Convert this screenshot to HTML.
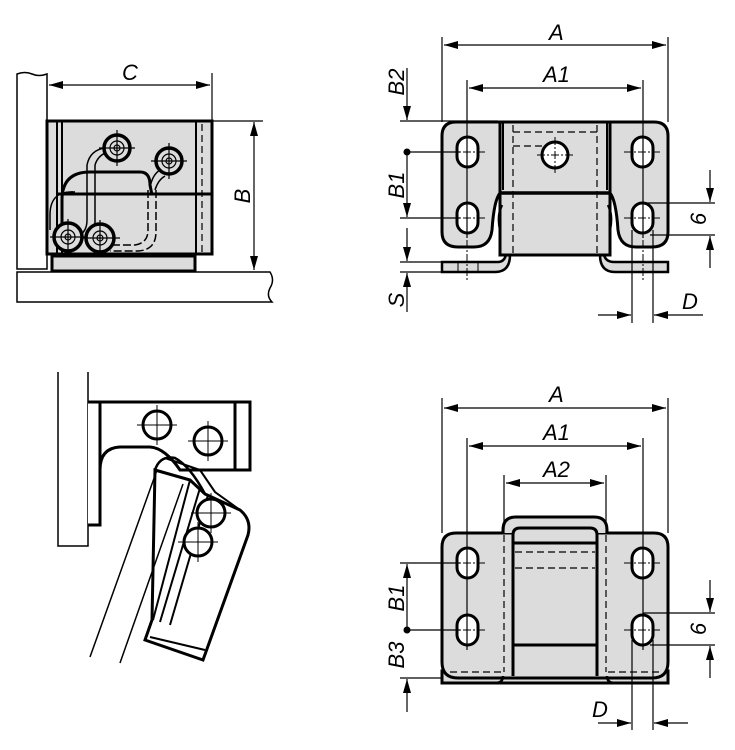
<!DOCTYPE html>
<html><head><meta charset="utf-8"><style>
html,body{margin:0;padding:0;background:#fff}
svg{display:block}
text{font-family:"Liberation Sans",sans-serif;font-style:italic;font-size:22px;fill:#000}
</style></head><body>
<svg width="735" height="750" viewBox="0 0 735 750" xmlns="http://www.w3.org/2000/svg">
<defs>
<marker id="a" viewBox="0 0 14 8" refX="14" refY="4" markerWidth="14" markerHeight="8" markerUnits="userSpaceOnUse" orient="auto-start-reverse"><path d="M0,0 L14,4 L0,8 z" fill="#000"/></marker>
</defs>
<g fill="none" stroke="#000">

<!-- ============ TOP LEFT ============ -->
<path d="M17,74 Q25,71 32,74 T47,74 V269 H17 Z" stroke-width="1.5" fill="#fff"/>
<path d="M17,272 H270 Q275,280 270,288 Q266,296 272,302 H17 Z" stroke-width="1.5" fill="#fff"/>
<rect x="47" y="121" width="165" height="133" fill="#dcdcdc" stroke-width="3"/>
<line x1="57" y1="121" x2="57" y2="254" stroke-width="2"/>
<line x1="62" y1="121" x2="62" y2="254" stroke-width="2"/>
<line x1="196" y1="121" x2="196" y2="254" stroke-width="2"/>
<line x1="202" y1="124" x2="202" y2="252" stroke-width="1.2" stroke-dasharray="7,4"/>
<line x1="57" y1="194" x2="213" y2="194" stroke-width="3"/>
<rect x="52" y="256" width="143" height="15" fill="#dcdcdc" stroke-width="3"/>
<path d="M62,235 V200 Q62,172 90,172 H140 Q150,172 150,185 L152,195" stroke-width="3"/>
<path d="M50,230 V215 Q50,190 75,192" stroke-width="1.5"/>
<path d="M87,165 V220 Q87,232 78,236" stroke-width="1.5"/>
<path d="M95,165 V222 Q95,230 90,234" stroke-width="1.5"/>
<path d="M87,165 Q90,150 105,148" stroke-width="1.5"/>
<path d="M95,165 Q98,155 108,152" stroke-width="1.5"/>
<path d="M148,190 V230 Q148,243 135,245 H112" stroke-width="1.5" stroke-dasharray="8,3"/>
<path d="M156,190 V232 Q156,250 138,251 H110" stroke-width="1.5" stroke-dasharray="8,3"/>
<path d="M150,188 Q152,175 160,170" stroke-width="1.5"/>
<path d="M155,190 Q158,180 165,176" stroke-width="1.5"/>
<g stroke-width="3.5" fill="#dcdcdc">
<circle cx="117" cy="148" r="13"/><circle cx="169" cy="161" r="13"/>
<circle cx="68" cy="237" r="14"/><circle cx="100" cy="238" r="14"/>
</g>
<g stroke-width="1.2">
<circle cx="117" cy="148" r="7"/><circle cx="117" cy="148" r="3"/>
<circle cx="169" cy="161" r="7"/><circle cx="169" cy="161" r="3"/>
<circle cx="68" cy="237" r="7"/><circle cx="68" cy="237" r="3"/>
<circle cx="100" cy="238" r="7"/><circle cx="100" cy="238" r="3"/>
<path d="M99,148 H135 M117,130 V166 M151,161 H187 M169,143 V179 M50,237 H86 M68,219 V255 M82,238 H120 M100,220 V256"/>
</g>
<line x1="212" y1="73" x2="212" y2="121" stroke-width="1.2"/>
<line x1="49" y1="85" x2="210" y2="85" stroke-width="1.2" marker-start="url(#a)" marker-end="url(#a)"/>
<line x1="212" y1="121" x2="263" y2="121" stroke-width="1.2"/>
<line x1="254" y1="122" x2="254" y2="270" stroke-width="1.2" marker-start="url(#a)" marker-end="url(#a)"/>

<!-- ============ TOP RIGHT ============ -->
<path d="M442,262 H498 Q504,262 506,255 L510,255 Q510,272 495,272 H442 Z" fill="#dcdcdc" stroke-width="2.5"/>
<path d="M668,262 H614 Q606,262 604,255 L600,255 Q600,272 615,272 H668 Z" fill="#dcdcdc" stroke-width="2.5"/>
<line x1="458" y1="262" x2="458" y2="272" stroke-width="1"/>
<line x1="478" y1="262" x2="478" y2="272" stroke-width="1"/>
<rect x="500" y="193" width="110" height="62" fill="#dcdcdc" stroke-width="3"/>
<path d="M498,122 H456 Q442,122 442,136 V232 Q442,247 458,247 H474 Q490,247 492,230 Q494,200 500,193 V122 Z" fill="#dcdcdc" stroke-width="3"/>
<path d="M612,122 H654 Q668,122 668,136 V232 Q668,247 652,247 H636 Q620,247 618,230 Q616,200 610,193 V122 Z" fill="#dcdcdc" stroke-width="3"/>
<rect x="500" y="122" width="110" height="71" fill="#dcdcdc" stroke-width="3"/>
<line x1="500" y1="193" x2="610" y2="193" stroke-width="3.5"/>
<line x1="503" y1="123" x2="503" y2="190" stroke-width="2"/>
<line x1="607" y1="123" x2="607" y2="190" stroke-width="2"/>
<path d="M500,230 Q497,215 502,205 M610,230 Q613,215 608,205" stroke-width="2.5"/>
<g stroke-width="1.2" stroke-dasharray="7,4">
<line x1="513" y1="125" x2="513" y2="253"/><line x1="597" y1="125" x2="597" y2="253"/>
<line x1="513" y1="132" x2="597" y2="132"/><line x1="513" y1="146" x2="545" y2="146"/>
</g>
<circle cx="555" cy="155" r="13" fill="#fff" stroke-width="3"/>
<g stroke-width="3" fill="#fff">
<rect x="457" y="137" width="21" height="30" rx="10.5"/><rect x="457" y="203" width="21" height="30" rx="10.5"/>
<rect x="632" y="137" width="21" height="30" rx="10.5"/><rect x="632" y="203" width="21" height="30" rx="10.5"/>
</g>
<g stroke-width="1" stroke-dasharray="8,2,2,2">
<path d="M449,152 H486 M449,218 H486 M624,152 H661 M624,218 H661 M537,155 H573 M555,137 V173 M467,240 V280 M643,240 V280"/>
</g>
<line x1="442" y1="37" x2="442" y2="122" stroke-width="1.2"/>
<line x1="668" y1="37" x2="668" y2="122" stroke-width="1.2"/>
<line x1="444" y1="45" x2="666" y2="45" stroke-width="1.2" marker-start="url(#a)" marker-end="url(#a)"/>
<line x1="467" y1="80" x2="467" y2="238" stroke-width="1.2"/>
<line x1="643" y1="80" x2="643" y2="238" stroke-width="1.2"/>
<line x1="469" y1="88" x2="641" y2="88" stroke-width="1.2" marker-start="url(#a)" marker-end="url(#a)"/>
<line x1="400" y1="121" x2="498" y2="121" stroke-width="1.2"/>
<line x1="407" y1="152" x2="460" y2="152" stroke-width="1.2"/>
<line x1="400" y1="218" x2="460" y2="218" stroke-width="1.2"/>
<line x1="400" y1="262" x2="442" y2="262" stroke-width="1.2"/>
<line x1="400" y1="272" x2="442" y2="272" stroke-width="1.2"/>
<line x1="407" y1="68" x2="407" y2="120" stroke-width="1.2" marker-end="url(#a)"/>
<line x1="407" y1="152" x2="407" y2="217" stroke-width="1.2" marker-end="url(#a)"/>
<line x1="407" y1="228" x2="407" y2="261" stroke-width="1.2" marker-end="url(#a)"/>
<line x1="407" y1="312" x2="407" y2="273" stroke-width="1.2" marker-end="url(#a)"/>
<line x1="643" y1="203" x2="715" y2="203" stroke-width="1.2"/>
<line x1="650" y1="235" x2="715" y2="235" stroke-width="1.2"/>
<line x1="710" y1="170" x2="710" y2="202" stroke-width="1.2" marker-end="url(#a)"/>
<line x1="710" y1="268" x2="710" y2="236" stroke-width="1.2" marker-end="url(#a)"/>
<line x1="632" y1="230" x2="632" y2="323" stroke-width="1.2"/>
<line x1="653" y1="230" x2="653" y2="323" stroke-width="1.2"/>
<line x1="598" y1="315" x2="631" y2="315" stroke-width="1.2" marker-end="url(#a)"/>
<line x1="703" y1="315" x2="654" y2="315" stroke-width="1.2" marker-end="url(#a)"/>

<!-- ============ BOTTOM LEFT ============ -->
<path d="M58,372 V546 H88 V372" stroke-width="1.5"/>
<path d="M88,402 H250 V470 H235 Q232,470 180,470 Q165,448 150,447 H120 Q100,448 100,470 V525 H88" stroke-width="3" fill="#fff"/>
<line x1="235" y1="402" x2="235" y2="470" stroke-width="3"/>
<line x1="100" y1="402" x2="100" y2="470" stroke-width="3"/>
<path d="M155,470 L190,480 L205,494 L240,510 Q252,520 248,535 L203,660 L145,640 L152,620 Z" stroke-width="3" fill="#fff"/>
<path d="M155,470 Q160,455 175,458 Q190,466 205,494" stroke-width="2.5"/>
<path d="M165,458 L200,470 L215,492 L240,510" stroke-width="2"/>
<path d="M90,657 L157,470 M120,663 L183,484" stroke-width="1.5"/>
<path d="M190,480 L153,620 M200,488 L160,622 M208,495 L170,625" stroke-width="2"/>
<path d="M150,637 L205,650" stroke-width="2"/>
<g stroke-width="3" fill="#fff">
<circle cx="157" cy="425" r="14"/><circle cx="208" cy="441" r="14"/>
<circle cx="211" cy="513" r="14"/><circle cx="198" cy="542" r="14"/>
</g>
<path d="M137,425 H177 M157,405 V445 M188,441 H228 M208,421 V461 M191,513 H231 M211,493 V533 M178,542 H218 M198,522 V562" stroke-width="1"/>

<!-- ============ BOTTOM RIGHT ============ -->
<rect x="442" y="671" width="226" height="12" fill="#dcdcdc" stroke-width="3"/>
<path d="M456,533 H654 Q668,533 668,547 V662 Q668,678 652,678 H458 Q442,678 442,662 V547 Q442,533 456,533 Z" fill="#dcdcdc" stroke-width="3"/>
<path d="M503,533 V530 Q503,517 516,517 H594 Q607,517 607,530 V533" fill="#dcdcdc" stroke-width="3"/>
<path d="M513,533 V535 Q513,528 520,528 H590 Q597,528 597,535 V676 M513,533 V676" fill="#dcdcdc" stroke-width="3"/>
<line x1="513" y1="543" x2="597" y2="543" stroke-width="3"/>
<line x1="513" y1="645" x2="597" y2="645" stroke-width="3"/>
<path d="M503,676 Q503,683 495,683 M607,676 Q607,683 615,683" stroke-width="2.5"/>
<g stroke-width="1.2" stroke-dasharray="7,4">
<line x1="504" y1="535" x2="504" y2="672"/><line x1="606" y1="535" x2="606" y2="672"/>
<line x1="515" y1="552" x2="595" y2="552"/><line x1="515" y1="568" x2="595" y2="568"/>
<line x1="450" y1="672" x2="502" y2="672"/><line x1="608" y1="672" x2="660" y2="672"/>
</g>
<g stroke-width="3" fill="#fff">
<rect x="457" y="548" width="21" height="30" rx="10.5"/><rect x="457" y="615" width="21" height="30" rx="10.5"/>
<rect x="632" y="548" width="21" height="30" rx="10.5"/><rect x="632" y="615" width="21" height="30" rx="10.5"/>
</g>
<g stroke-width="1" stroke-dasharray="8,2,2,2">
<path d="M449,563 H486 M449,630 H486 M624,563 H661 M624,630 H661"/>
</g>
<line x1="442" y1="398" x2="442" y2="533" stroke-width="1.2"/>
<line x1="668" y1="398" x2="668" y2="533" stroke-width="1.2"/>
<line x1="444" y1="408" x2="666" y2="408" stroke-width="1.2" marker-start="url(#a)" marker-end="url(#a)"/>
<line x1="467" y1="438" x2="467" y2="650" stroke-width="1.2"/>
<line x1="643" y1="438" x2="643" y2="650" stroke-width="1.2"/>
<line x1="469" y1="446" x2="641" y2="446" stroke-width="1.2" marker-start="url(#a)" marker-end="url(#a)"/>
<line x1="504" y1="475" x2="504" y2="533" stroke-width="1.2"/>
<line x1="606" y1="475" x2="606" y2="533" stroke-width="1.2"/>
<line x1="506" y1="483" x2="604" y2="483" stroke-width="1.2" marker-start="url(#a)" marker-end="url(#a)"/>
<line x1="400" y1="563" x2="460" y2="563" stroke-width="1.2"/>
<line x1="407" y1="630" x2="460" y2="630" stroke-width="1.2"/>
<line x1="400" y1="678" x2="442" y2="678" stroke-width="1.2"/>
<line x1="407" y1="630" x2="407" y2="564" stroke-width="1.2" marker-end="url(#a)"/>
<line x1="407" y1="712" x2="407" y2="679" stroke-width="1.2" marker-end="url(#a)"/>
<line x1="643" y1="613" x2="715" y2="613" stroke-width="1.2"/>
<line x1="650" y1="645" x2="715" y2="645" stroke-width="1.2"/>
<line x1="710" y1="580" x2="710" y2="612" stroke-width="1.2" marker-end="url(#a)"/>
<line x1="710" y1="678" x2="710" y2="646" stroke-width="1.2" marker-end="url(#a)"/>
<line x1="632" y1="640" x2="632" y2="730" stroke-width="1.2"/>
<line x1="653" y1="640" x2="653" y2="730" stroke-width="1.2"/>
<line x1="598" y1="723" x2="631" y2="723" stroke-width="1.2" marker-end="url(#a)"/>
<line x1="688" y1="723" x2="654" y2="723" stroke-width="1.2" marker-end="url(#a)"/>
</g>
<g fill="#000">
<circle cx="407" cy="152" r="3.5"/><circle cx="407" cy="630" r="3.5"/>
</g>
<text x="122" y="80">C</text>
<text transform="translate(250,196) rotate(-90)" text-anchor="middle">B</text>
<text x="549" y="40">A</text>
<text x="543" y="82">A1</text>
<text transform="translate(404,82) rotate(-90)" text-anchor="middle">B2</text>
<text transform="translate(404,185) rotate(-90)" text-anchor="middle">B1</text>
<text transform="translate(404,300) rotate(-90)" text-anchor="middle">S</text>
<text transform="translate(706,219) rotate(-90)" text-anchor="middle">6</text>
<text x="682" y="309">D</text>
<text x="549" y="402">A</text>
<text x="543" y="440">A1</text>
<text x="543" y="477">A2</text>
<text transform="translate(404,598) rotate(-90)" text-anchor="middle">B1</text>
<text transform="translate(404,655) rotate(-90)" text-anchor="middle">B3</text>
<text transform="translate(706,629) rotate(-90)" text-anchor="middle">6</text>
<text x="592" y="717">D</text>
</svg>
</body></html>
